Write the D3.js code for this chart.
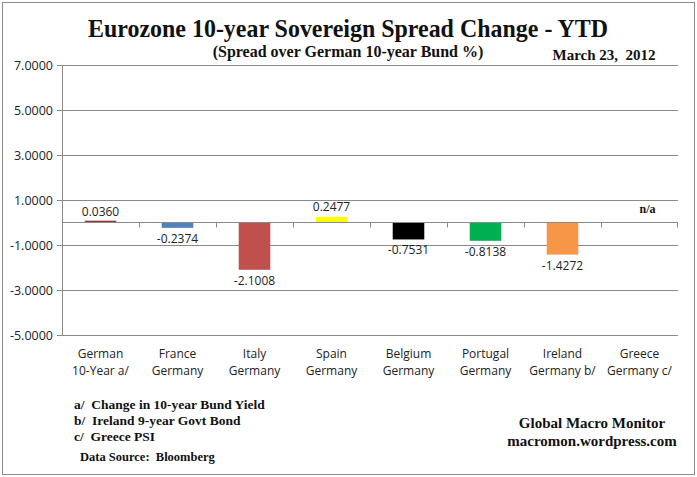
<!DOCTYPE html>
<html>
<head>
<meta charset="utf-8">
<title>Eurozone Spread Change</title>
<script src="https://d3js.org/d3.v7.min.js"></script>
<style>
  body { margin: 0; background: #fff; }
  text { white-space: pre; }
  .serif { font-family: "Liberation Serif", "Times New Roman", serif; font-weight: bold; fill: #111; }
  .sans { font-family: "Open Sans", "DejaVu Sans", sans-serif; fill: #222; }
</style>
</head>
<body>
<svg id="chart" width="697" height="477"></svg>
<script>
// data
const categories = ["German|10-Year a/", "France|Germany", "Italy|Germany", "Spain|Germany",
                    "Belgium|Germany", "Portugal|Germany", "Ireland|Germany b/", "Greece|Germany c/"]
const values = [0.0360, -0.2374, -2.1008, 0.2477, -0.7531, -0.8138, -1.4272, null]
const barColors = ["#943634", "#4f81bd", "#c0504d", "#ffff00", "#000000", "#00b050", "#f79646", "#999999"]
const yTicks = [7, 5, 3, 1, -1, -3, -5]
const footnotes = ["a/  Change in 10-year Bund Yield", "b/  Ireland 9-year Govt Bond", "c/  Greece PSI"]

const fmt = v => d3.format(".4f")(v).replace("\u2212", "-")

const svg = d3.select("#chart")
const margin = { top: 65, left: 62, right: 19, bottom: 142 }
const width = +svg.attr("width")
const height = +svg.attr("height")

// outer frame
svg.append("rect")
    .attr("x", 2.5).attr("y", 2.5)
    .attr("width", 692).attr("height", 472)
    .attr("fill", "none").attr("stroke", "#8c8c8c")

const xScale = d3.scaleBand()
    .domain(categories)
    .range([margin.left, width - margin.right])
    .padding(0)

const yScale = d3.scaleLinear()
    .domain([-5, 7])
    .range([height - margin.bottom, margin.top])

// gridlines
svg.append("g").selectAll("line")
    .data(yTicks)
    .enter().append("line")
    .attr("x1", margin.left - 5).attr("x2", width - margin.right)
    .attr("y1", d => Math.round(yScale(d)) + 0.5)
    .attr("y2", d => Math.round(yScale(d)) + 0.5)
    .attr("stroke", "#8a8a8a")

// y labels
svg.append("g").selectAll("text")
    .data(yTicks)
    .enter().append("text")
    .attr("class", "sans")
    .attr("x", 53)
    .attr("y", d => yScale(d) + 4.5)
    .attr("text-anchor", "end")
    .attr("font-size", 12.5)
    .text(fmt)

// left axis line
svg.append("line")
    .attr("x1", margin.left + 0.5).attr("x2", margin.left + 0.5)
    .attr("y1", yScale(7)).attr("y2", yScale(-5))
    .attr("stroke", "#8a8a8a")

// bars
const barW = xScale.bandwidth() * 0.41
svg.append("g").selectAll("rect")
    .data(values.map((v, i) => ({ v, i })).filter(d => d.v !== null))
    .enter().append("rect")
    .attr("x", d => xScale(categories[d.i]) + (xScale.bandwidth() - barW) / 2)
    .attr("y", d => yScale(Math.max(0, d.v)) - (d.v > 0 && d.v < 0.1 ? 1 : 0))
    .attr("width", barW)
    .attr("height", d => Math.max(2, Math.abs(yScale(d.v) - yScale(0))))
    .attr("fill", d => barColors[d.i])

// zero axis with ticks at category borders
const y0 = Math.round(yScale(0)) + 0.5
svg.append("line")
    .attr("x1", margin.left).attr("x2", width - margin.right)
    .attr("y1", y0).attr("y2", y0)
    .attr("stroke", "#8a8a8a")
svg.append("g").selectAll("line")
    .data(categories.slice(1).concat([null]))
    .enter().append("line")
    .attr("x1", d => d ? Math.round(xScale(d)) + 0.5 : width - margin.right - 0.5)
    .attr("x2", d => d ? Math.round(xScale(d)) + 0.5 : width - margin.right - 0.5)
    .attr("y1", y0).attr("y2", y0 + 5)
    .attr("stroke", "#8a8a8a")

// data labels
svg.append("g").selectAll("text")
    .data(values.map((v, i) => ({ v, i })))
    .enter().append("text")
    .attr("x", d => xScale(categories[d.i]) + xScale.bandwidth() / 2 + (d.v === null ? 8 : 0))
    .attr("y", d => d.v === null ? yScale(0) - 10 : d.v >= 0 ? yScale(d.v) - 6 : yScale(d.v) + 15)
    .attr("text-anchor", "middle")
    .attr("class", d => d.v === null ? "serif" : "sans")
    .attr("font-size", d => d.v === null ? 12 : 12)
    .text(d => d.v === null ? "n/a" : fmt(d.v))

// category labels
const catG = svg.append("g")
categories.forEach(c => {
    const parts = c.split("|")
    parts.forEach((p, j) => {
        catG.append("text")
            .attr("class", "sans")
            .attr("x", xScale(c) + xScale.bandwidth() / 2)
            .attr("y", 358 + j * 17)
            .attr("text-anchor", "middle")
            .attr("font-size", 12)
            .text(p)
    })
})

// titles
svg.append("text").attr("class", "serif")
    .attr("x", 348).attr("y", 37)
    .attr("text-anchor", "middle").attr("font-size", 25)
    .attr("textLength", 520).attr("lengthAdjust", "spacingAndGlyphs")
    .text("Eurozone 10-year Sovereign Spread Change - YTD")
svg.append("text").attr("class", "serif")
    .attr("x", 348).attr("y", 57)
    .attr("text-anchor", "middle").attr("font-size", 16)
    .text("(Spread over German 10-year Bund %)")
svg.append("text").attr("class", "serif")
    .attr("x", 604).attr("y", 60)
    .attr("text-anchor", "middle").attr("font-size", 15)
    .text("March 23,  2012")

// footnotes
footnotes.forEach((f, i) => {
    svg.append("text").attr("class", "serif")
        .attr("x", 74).attr("y", 409 + i * 16)
        .attr("font-size", 13.5)
        .text(f)
})
svg.append("text").attr("class", "serif")
    .attr("x", 80).attr("y", 461)
    .attr("font-size", 12.5)
    .text("Data Source:  Bloomberg")
svg.append("text").attr("class", "serif")
    .attr("x", 592).attr("y", 428)
    .attr("text-anchor", "middle").attr("font-size", 15)
    .text("Global Macro Monitor")
svg.append("text").attr("class", "serif")
    .attr("x", 592).attr("y", 446)
    .attr("text-anchor", "middle").attr("font-size", 15)
    .text("macromon.wordpress.com")
</script>
</body>
</html>
